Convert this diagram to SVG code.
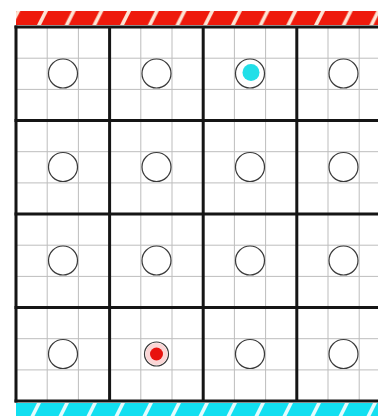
<svg xmlns="http://www.w3.org/2000/svg" width="378" height="416" viewBox="0 0 378 416">
  <defs>
    <pattern id="hatchRed" patternUnits="userSpaceOnUse" x="37" y="11" width="27.7" height="14">
      <rect width="27.7" height="14" fill="#ee1a0c"/>
      <polygon points="0,14 4,14 11,0 7,0" fill="#fde4d4"/>
      <polygon points="27.7,14 31.7,14 38.7,0 34.7,0" fill="#fde4d4"/>
    </pattern>
    <pattern id="hatchCyan" patternUnits="userSpaceOnUse" x="30" y="403" width="28" height="14">
      <rect width="28" height="14" fill="#12dff0"/>
      <polygon points="0,14 4,14 11,0 7,0" fill="#e6fbfd"/>
      <polygon points="28,14 32,14 39,0 35,0" fill="#e6fbfd"/>
    </pattern>
    <style>
      .thin { stroke: #bdbdbd; stroke-width: 1; fill: none; }
      .thick { stroke: #151515; stroke-width: 3; fill: none; }
      .ring { stroke: #3a3a3a; stroke-width: 1.2; fill: none; }
    </style>
  </defs>
  <rect width="378" height="416" fill="#ffffff"/>
  <rect x="16" y="11" width="362" height="14" fill="url(#hatchRed)"/>
  <rect x="16" y="403" width="362" height="13" fill="url(#hatchCyan)"/>
  <g id="thin-grid" class="thin">
    <line x1="47.2" y1="27" x2="47.2" y2="401"/>
    <line x1="78.4" y1="27" x2="78.4" y2="401"/>
    <line x1="140.8" y1="27" x2="140.8" y2="401"/>
    <line x1="172" y1="27" x2="172" y2="401"/>
    <line x1="234.4" y1="27" x2="234.4" y2="401"/>
    <line x1="265.6" y1="27" x2="265.6" y2="401"/>
    <line x1="328" y1="27" x2="328" y2="401"/>
    <line x1="359.2" y1="27" x2="359.2" y2="401"/>
    <line x1="16" y1="58.2" x2="378" y2="58.2"/>
    <line x1="16" y1="89.4" x2="378" y2="89.4"/>
    <line x1="16" y1="151.7" x2="378" y2="151.7"/>
    <line x1="16" y1="182.9" x2="378" y2="182.9"/>
    <line x1="16" y1="245.2" x2="378" y2="245.2"/>
    <line x1="16" y1="276.4" x2="378" y2="276.4"/>
    <line x1="16" y1="338.7" x2="378" y2="338.7"/>
    <line x1="16" y1="369.9" x2="378" y2="369.9"/>
  </g>
  <g id="thick-grid" class="thick">
    <line x1="16" y1="25.5" x2="16" y2="402.5"/>
    <line x1="109.6" y1="27" x2="109.6" y2="401"/>
    <line x1="203.2" y1="27" x2="203.2" y2="401"/>
    <line x1="296.8" y1="27" x2="296.8" y2="401"/>
    <line x1="14.5" y1="27" x2="378" y2="27"/>
    <line x1="14.5" y1="120.5" x2="378" y2="120.5"/>
    <line x1="14.5" y1="214" x2="378" y2="214"/>
    <line x1="14.5" y1="307.5" x2="378" y2="307.5"/>
    <line x1="14.5" y1="401" x2="378" y2="401"/>
  </g>
  <g id="sites" class="ring">
    <circle id="s11" cx="63" cy="73.5" r="14.5"/>
    <circle id="s12" cx="156.5" cy="73.5" r="14.5"/>
    <circle id="s13" cx="250" cy="73.5" r="14.5"/>
    <circle id="s14" cx="343.5" cy="73.5" r="14.5"/>
    <circle id="s21" cx="63" cy="167" r="14.5"/>
    <circle id="s22" cx="156.5" cy="167" r="14.5"/>
    <circle id="s23" cx="250" cy="167" r="14.5"/>
    <circle id="s24" cx="343.5" cy="167" r="14.5"/>
    <circle id="s31" cx="63" cy="260.5" r="14.5"/>
    <circle id="s32" cx="156.5" cy="260.5" r="14.5"/>
    <circle id="s33" cx="250" cy="260.5" r="14.5"/>
    <circle id="s34" cx="343.5" cy="260.5" r="14.5"/>
    <circle id="s41" cx="63" cy="354" r="14.5"/>
    <circle id="s42" cx="156.5" cy="354" r="12"/>
    <circle id="s43" cx="250" cy="354" r="14.5"/>
    <circle id="s44" cx="343.5" cy="354" r="14.5"/>
  </g>
  <g id="cyan-particle">
    <circle cx="251" cy="72.5" r="8.5" fill="#22dfe8"/>
  </g>
  <g id="red-particle">
    <circle cx="156.5" cy="354" r="11" fill="#fbd6d6"/>
    <circle cx="156.5" cy="354" r="6.5" fill="#e8120e"/>
  </g>
</svg>
